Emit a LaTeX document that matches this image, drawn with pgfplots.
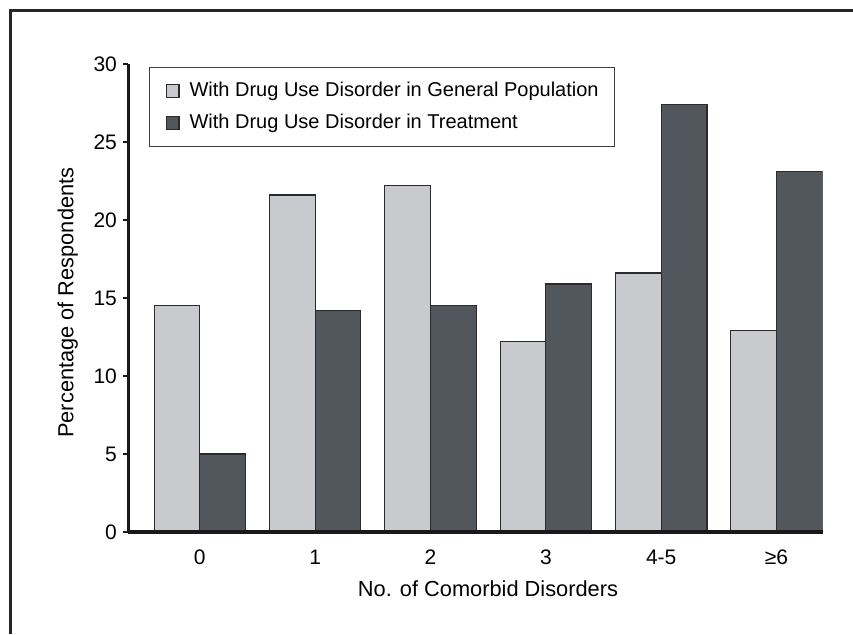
\documentclass[border=0pt]{standalone}
\usepackage{fontspec}
\setmainfont{Liberation Sans}
\usepackage{pgfplots}
\pgfplotsset{compat=1.18}
\definecolor{genpop}{HTML}{C8CACD}
\definecolor{treat}{HTML}{52565D}
\definecolor{edge}{HTML}{2B2B2B}

\begin{document}
\begin{tikzpicture}
\begin{axis}[
  name=ax,
  scale only axis,
  width=347.2pt, height=234pt,
  xmin=-0.62, xmax=5.4, ymin=0, ymax=30,
  axis x line=bottom, axis y line=left,
  axis line style={-, line width=1.6pt, color=black!90},
  axis on top,
  ybar=0pt, bar width=22.85pt,
  xtick={0,...,5},
  xticklabels={0,1,2,3,4-5,≥6},
  ytick={0,5,...,30},
  tick align=outside,
  major tick length=2.5pt,
  xtick style={draw=none},
  ytick style={line width=1pt, black!90},
  /pgf/number format/assume math mode=true,
  ticklabel style={font=\fontsize{10.5}{12}\selectfont},
  xticklabel style={inner sep=0pt, anchor=base, yshift=-13.5pt},
  yticklabel style={inner sep=3pt},
  xlabel={No. of Comorbid Disorders},
  ylabel={Percentage of Respondents},
  label style={font=\fontsize{10.9}{13}\selectfont},
  xlabel style={at={([yshift=-32pt]axis description cs:0.518,0)}, anchor=base},
  ylabel style={at={([xshift=-27.5pt]axis description cs:0,0.49)}, anchor=base},
  legend style={
    at={(0.0298,0.993)}, anchor=north west,
    draw=black!75, line width=0.6pt,
    inner xsep=8pt, inner ysep=7.3pt,
    /tikz/row sep=7.2pt, /tikz/column sep=5pt,
    nodes={inner sep=0pt},
    font=\fontsize{10}{12}\selectfont,
  },
  legend cell align=left,
  legend image code/.code={\draw[#1, line width=0.6pt] (0pt,-3.2pt) rectangle (6.4pt,3.2pt);},
]
\addplot[fill=genpop, draw=edge, line width=0.6pt] coordinates {
  (0,14.5) (1,21.6) (2,22.2) (3,12.2) (4,16.6) (5,12.9)
};
\addplot[fill=treat, draw=edge, line width=0.6pt] coordinates {
  (0,5.0) (1,14.2) (2,14.5) (3,15.9) (4,27.4) (5,23.1)
};
\legend{With Drug Use Disorder in General Population, With Drug Use Disorder in Treatment}
\end{axis}
% outer frame of the figure (only top and left edges show)
\draw[line width=1.35pt, black!85]
  ([shift={(-58.8pt,-51pt)}]ax.south west) -- ([shift={(-58.8pt,260.85pt)}]ax.south west)
  -- ([shift={(362.35pt,260.85pt)}]ax.south west);
\pgfresetboundingbox
\path[use as bounding box] ([shift={(-64.15pt,-51pt)}]ax.south west) rectangle ([shift={(362.35pt,266pt)}]ax.south west);
\end{tikzpicture}
\end{document}
